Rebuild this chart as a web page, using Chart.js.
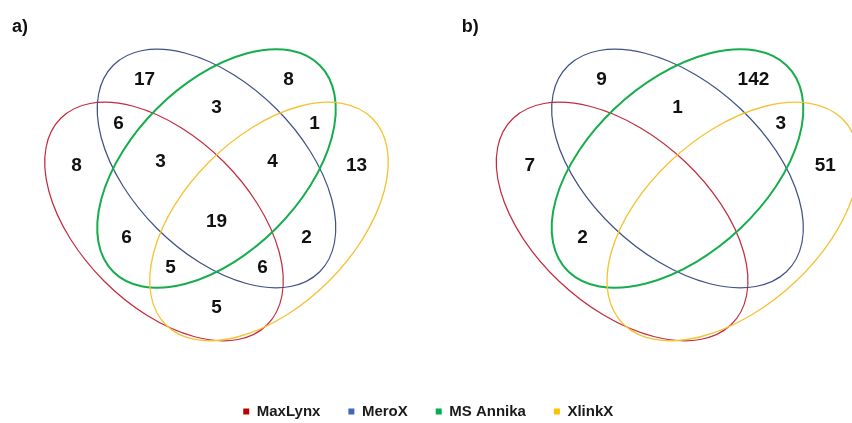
<!DOCTYPE html>
<html lang="en">
<head>
<meta charset="utf-8">
<title>Cross-link overlap between search engines</title>
<script src="https://cdn.jsdelivr.net/npm/chart.js@4.4.1/dist/chart.umd.min.js"></script>
<style>
  html, body { margin: 0; padding: 0; background: #ffffff; }
  #box { width: 852px; height: 423px; position: relative; }
  canvas { display: block; }
</style>
</head>
<body>
<div id="box"><canvas id="venn" width="852" height="423"></canvas></div>
<script>
// Search engines compared
const SETS = ['MaxLynx', 'MeroX', 'MS Annika', 'XlinkX'];
// Venn regions as membership flags, in SETS order
const REGIONS = ['1000', '0100', '0010', '0001', '1100', '1010', '1001', '0110',
                 '0101', '0011', '1110', '1101', '1011', '0111', '1111'];
// Cross-links found in each region (0 = region left blank)
const COUNTS_A = [8, 17, 8, 13, 6, 6, 5, 3, 2, 1, 3, 6, 5, 4, 19];
const COUNTS_B = [7, 9, 142, 51, 0, 2, 0, 1, 0, 3, 0, 0, 0, 0, 0];
const PANEL_TAGS = ['a)', 'b)'];

// ---- styling ----
const SET_LINE = ['#c42a3e', '#3f5084', '#16ad4c', '#f5c232'];
const SET_FILL = ['#c00000', '#4069b4', '#00b050', '#ffc000'];
const SET_WIDTH = [1.2, 1.2, 2, 1.3];
const FONT = "'Liberation Sans', Arial, sans-serif";
const PAD_LEFT = 4.5;

// ---- four-set layout: congruent ellipses, diagram units with y pointing up ----
const ELLIPSES = [
  { cx: -52.5, cy: 0,  rx: 146, ry: 84.5, angle: -45 },
  { cx: 0,     cy: 53, rx: 146, ry: 84.5, angle: -45 },
  { cx: 0,     cy: 53, rx: 146, ry: 84.5, angle: 45 },
  { cx: 52.5,  cy: 0,  rx: 146, ry: 84.5, angle: 45 }
];
// placement of each panel's diagram: page x of its centre and horizontal stretch
const PANEL_FRAMES = [{ cx: 216.5, sx: 1 }, { cx: 677.5, sx: 1.055 }];
const FRAME_CY = 221.5;
const TAG_ANCHOR = { x: -204.5, y: 194.5 };

function insideEllipse(e, x, y) {
  const t = e.angle * Math.PI / 180, c = Math.cos(t), s = Math.sin(t);
  const dx = x - e.cx, dy = y - e.cy;
  const u = dx * c + dy * s, v = -dx * s + dy * c;
  return (u * u) / (e.rx * e.rx) + (v * v) / (e.ry * e.ry) <= 1;
}

function outline(e, n) {
  const t = e.angle * Math.PI / 180, c = Math.cos(t), s = Math.sin(t);
  const pts = [];
  for (let k = 0; k < n; k++) {
    const a = 2 * Math.PI * k / n;
    const u = e.rx * Math.cos(a), v = e.ry * Math.sin(a);
    pts.push([e.cx + u * c - v * s, e.cy + u * s + v * c]);
  }
  return pts;
}

// label spot of every region: its point farthest from all outlines
function regionAnchors() {
  const curves = ELLIPSES.map(e => outline(e, 540));
  const best = {};
  for (let x = -230; x <= 230; x += 2) {
    for (let y = -130; y <= 185; y += 2) {
      const key = ELLIPSES.map(e => insideEllipse(e, x, y) ? '1' : '0').join('');
      if (key === '0000') continue;
      let d = Infinity;
      for (const pts of curves) {
        for (const p of pts) {
          const dd = (p[0] - x) * (p[0] - x) + (p[1] - y) * (p[1] - y);
          if (dd < d) d = dd;
        }
      }
      if (!best[key] || d > best[key].d) best[key] = { x, y, d };
    }
  }
  return REGIONS.map(k => ({ x: best[k].x, y: best[k].y }));
}

const anchors = regionAnchors();

const setDatasets = SETS.map((name, i) => ({
  label: name,
  data: [],
  backgroundColor: SET_FILL[i],
  borderColor: SET_FILL[i],
  borderWidth: 0,
  xAxisID: 'xa',
  yAxisID: 'y'
}));

const countDatasets = [COUNTS_A, COUNTS_B].map((counts, p) => ({
  label: PANEL_TAGS[p],
  data: REGIONS.map((r, i) => ({ x: anchors[i].x, y: anchors[i].y, n: counts[i] })),
  pointRadius: 0,
  pointHoverRadius: 0,
  xAxisID: p ? 'xb' : 'xa',
  yAxisID: 'y'
}));

function frameScale(p) {
  return {
    type: 'linear',
    display: false,
    bounds: 'data',
    afterDataLimits(s) {
      const f = PANEL_FRAMES[p];
      const c = f.cx - PAD_LEFT;
      s.min = -c / f.sx;
      s.max = (s.width - c) / f.sx;
    }
  };
}

// ellipse outlines of both panels, mapped through each panel's scales
const vennOutlines = {
  id: 'vennOutlines',
  beforeDatasetsDraw(chart) {
    const { ctx } = chart;
    const ys = chart.scales.y;
    ['xa', 'xb'].forEach(id => {
      const xs = chart.scales[id];
      const kx = xs.getPixelForValue(1) - xs.getPixelForValue(0);
      const ky = ys.getPixelForValue(1) - ys.getPixelForValue(0);
      ELLIPSES.forEach((e, i) => {
        ctx.save();
        ctx.translate(xs.getPixelForValue(e.cx), ys.getPixelForValue(e.cy));
        ctx.scale(kx, ky);
        ctx.rotate(e.angle * Math.PI / 180);
        ctx.beginPath();
        ctx.ellipse(0, 0, e.rx, e.ry, 0, 0, Math.PI * 2);
        ctx.restore();
        ctx.save();
        ctx.lineWidth = SET_WIDTH[i];
        ctx.strokeStyle = SET_LINE[i];
        ctx.stroke();
        ctx.restore();
      });
    });
  }
};

// region counts and panel tags
const countLabels = {
  id: 'countLabels',
  afterDatasetsDraw(chart) {
    const { ctx } = chart;
    ctx.save();
    ctx.fillStyle = '#111111';
    ctx.textBaseline = 'middle';
    ctx.font = 'bold 19px ' + FONT;
    ctx.textAlign = 'center';
    chart.data.datasets.forEach((ds, di) => {
      if (di < SETS.length) return;
      chart.getDatasetMeta(di).data.forEach((pt, i) => {
        const n = ds.data[i].n;
        if (n > 0) ctx.fillText(String(n), pt.x, pt.y);
      });
    });
    ctx.textAlign = 'left';
    ctx.font = 'bold 18px ' + FONT;
    ['xa', 'xb'].forEach((id, p) => {
      const xs = chart.scales[id];
      ctx.fillText(PANEL_TAGS[p], xs.getPixelForValue(TAG_ANCHOR.x), chart.scales.y.getPixelForValue(TAG_ANCHOR.y));
    });
    ctx.restore();
  }
};

new Chart(document.getElementById('venn'), {
  type: 'scatter',
  data: { datasets: setDatasets.concat(countDatasets) },
  options: {
    responsive: false,
    animation: false,
    events: [],
    layout: { padding: { left: PAD_LEFT, bottom: -6 } },
    scales: {
      xa: frameScale(0),
      xb: frameScale(1),
      y: {
        type: 'linear',
        display: false,
        bounds: 'data',
        afterDataLimits(s) {
          s.max = FRAME_CY;
          s.min = FRAME_CY - s.height;
        }
      }
    },
    plugins: {
      tooltip: { enabled: false },
      legend: {
        position: 'bottom',
        labels: {
          filter: item => item.datasetIndex < SETS.length,
          boxWidth: 6,
          boxHeight: 6,
          padding: 28,
          color: '#1a1a1a',
          font: { family: FONT, size: 15, weight: 'bold' }
        }
      }
    }
  },
  plugins: [vennOutlines, countLabels]
});
</script>
</body>
</html>
